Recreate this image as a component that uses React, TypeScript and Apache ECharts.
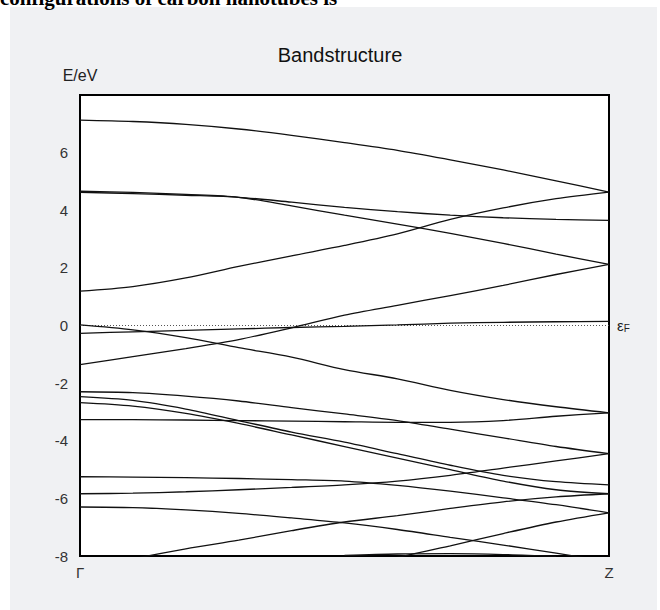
import React, { useEffect, useRef } from "react";
import * as echarts from "echarts";

// k-path sample points from Γ (0) to Z (1)
const kPoints = [0, 0.1, 0.2, 0.3, 0.4, 0.5, 0.6, 0.7, 0.8, 0.9, 1];
const kTickLabels = ["Γ", "Z"];
const yTicks = [-8, -6, -4, -2, 0, 2, 4, 6];

// band energies (eV) at each k point
const bandTop = [7.13, 7.08, 6.98, 6.82, 6.6, 6.35, 6.08, 5.75, 5.4, 5.02, 4.63];
const bandA = [4.62, 4.58, 4.52, 4.45, 4.28, 4.1, 3.95, 3.83, 3.74, 3.68, 3.65];
const bandB = [4.66, 4.62, 4.55, 4.45, 4.15, 3.83, 3.52, 3.2, 2.85, 2.48, 2.12];
const bandC = [1.19, 1.35, 1.65, 2.05, 2.42, 2.78, 3.18, 3.68, 4.08, 4.4, 4.63];
const bandD = [-1.36, -1.08, -0.8, -0.49, -0.08, 0.36, 0.7, 1.04, 1.39, 1.77, 2.12];
const bandE = [0.02, -0.15, -0.42, -0.77, -1.1, -1.53, -1.85, -2.25, -2.57, -2.82, -3.03];
const bandF = [-0.27, -0.22, -0.17, -0.12, -0.07, -0.03, 0.02, 0.08, 0.11, 0.13, 0.14];
const bandG = [-2.3, -2.33, -2.45, -2.62, -2.85, -3.07, -3.3, -3.6, -3.9, -4.2, -4.45];
const bandH1 = [-2.47, -2.6, -2.9, -3.3, -3.7, -4.05, -4.45, -4.85, -5.2, -5.42, -5.53];
const bandH2 = [-2.68, -2.8, -3.05, -3.4, -3.8, -4.2, -4.6, -5.0, -5.4, -5.7, -5.84];
const bandI = [-3.27, -3.27, -3.28, -3.3, -3.32, -3.34, -3.36, -3.36, -3.3, -3.15, -3.03];
const bandJ = [-5.25, -5.26, -5.28, -5.31, -5.35, -5.4, -5.55, -5.75, -5.98, -6.22, -6.5];
const bandK = [-5.84, -5.82, -5.77, -5.7, -5.62, -5.53, -5.4, -5.2, -4.95, -4.7, -4.45];
const bandL = [-6.3, -6.32, -6.4, -6.52, -6.68, -6.85, -7.08, -7.35, -7.62, -7.9, -8.2];
const bandM = [-8.5, -8.1, -7.75, -7.45, -7.12, -6.82, -6.6, -6.35, -6.12, -5.95, -5.84];
const bandN = [null, null, null, null, null, -8.5, -8.05, -7.65, -7.22, -6.82, -6.5];
const bandO = [null, null, null, null, null, -7.98, -7.93, -7.92, -7.95, -8.02, null];

const bands = [bandTop, bandA, bandB, bandC, bandD, bandE, bandF, bandG, bandH1, bandH2, bandI, bandJ, bandK, bandL, bandM, bandN, bandO];
const fermiLevel = 0;

const headingText = "configurations of carbon nanotubes is";
const titleText = "Bandstructure";
const yName = "E/eV";

export default function App() {
  const ref = useRef<HTMLDivElement>(null);
  useEffect(() => {
    if (!ref.current) return;
    const chart = echarts.init(ref.current, null, { renderer: "svg" });
    const bandSeries = bands.map((b, idx) => ({
      type: "line",
      name: "band" + idx,
      data: kPoints.map((k, i) => [k, b[i]]),
      showSymbol: false,
      symbol: "none",
      smooth: 0.3,
      clip: true,
      lineStyle: { color: "#111", width: 1.3 },
      z: 3,
    }));
    chart.setOption({
      animation: false,
      backgroundColor: "#ffffff",
      graphic: [
        { type: "rect", left: 10, top: 7, shape: { width: 647, height: 603 }, style: { fill: "#f0f1f3" }, z: -10 },
        {
          type: "text",
          left: 0,
          top: -13,
          style: { text: headingText, font: "bold 21px 'Liberation Serif', serif", fill: "#000" },
          z: 10,
        },
      ],
      title: {
        text: titleText,
        left: 335,
        textAlign: "center",
        top: 40,
        textStyle: { fontFamily: "'Liberation Sans', Arial, sans-serif", fontSize: 20, fontWeight: "normal", color: "#111" },
      },
      grid: {
        left: 80,
        right: 51,
        top: 95,
        bottom: 54,
        show: true,
        backgroundColor: "#ffffff",
        borderColor: "#000",
        borderWidth: 2,
        z: 2,
      },
      xAxis: {
        type: "value",
        min: 0,
        max: 1,
        interval: 1,
        axisLine: { show: false },
        axisTick: { show: false },
        splitLine: { show: false },
        axisLabel: {
          margin: 9,
          fontFamily: "'Liberation Sans', Arial, sans-serif",
          fontSize: 15,
          color: "#333",
          formatter: (v: number) => (v === 0 ? kTickLabels[0] : v === 1 ? kTickLabels[1] : ""),
        },
      },
      yAxis: [
        {
          type: "value",
          min: -8,
          max: 8,
          interval: 2,
          name: yName,
          nameLocation: "end",
          nameGap: 12,
          nameTextStyle: { fontFamily: "'Liberation Sans', Arial, sans-serif", fontSize: 16, color: "#222", align: "center" },
          axisLine: { show: false },
          axisTick: { show: true, inside: true, length: 7, lineStyle: { color: "#333" } },
          splitLine: { show: false },
          axisLabel: {
            margin: 12,
            fontFamily: "'Liberation Sans', Arial, sans-serif",
            fontSize: 15,
            color: "#333",
            formatter: (v: number) => (yTicks.indexOf(v) >= 0 ? String(v) : ""),
          },
        },
        {
          type: "value",
          min: -8,
          max: 8,
          interval: 2,
          position: "right",
          axisLine: { show: false },
          axisTick: { show: true, inside: true, length: 7, lineStyle: { color: "#333" } },
          splitLine: { show: false },
          axisLabel: { show: false },
        },
      ],
      series: [
        ...bandSeries,
        {
          type: "line",
          name: "fermi",
          data: [
            [0, fermiLevel],
            [1, fermiLevel],
          ],
          showSymbol: false,
          symbol: "none",
          lineStyle: { color: "#555", width: 1, type: [1, 2] },
          z: 2,
          endLabel: {
            show: true,
            distance: 8,
            formatter: "{e|ε}{f|F}",
            rich: {
              e: { fontFamily: "'Liberation Sans', Arial, sans-serif", fontSize: 15, color: "#222" },
              f: { fontFamily: "'Liberation Sans', Arial, sans-serif", fontSize: 10, color: "#222", verticalAlign: "bottom", padding: [6, 0, 0, 0] },
            },
          },
        },
      ],
    });
    return () => chart.dispose();
  }, []);
  return (
    <div
      ref={ref}
      style={{ position: "fixed", left: 0, top: 0, width: 660, height: 610, background: "#fff" }}
    />
  );
}
